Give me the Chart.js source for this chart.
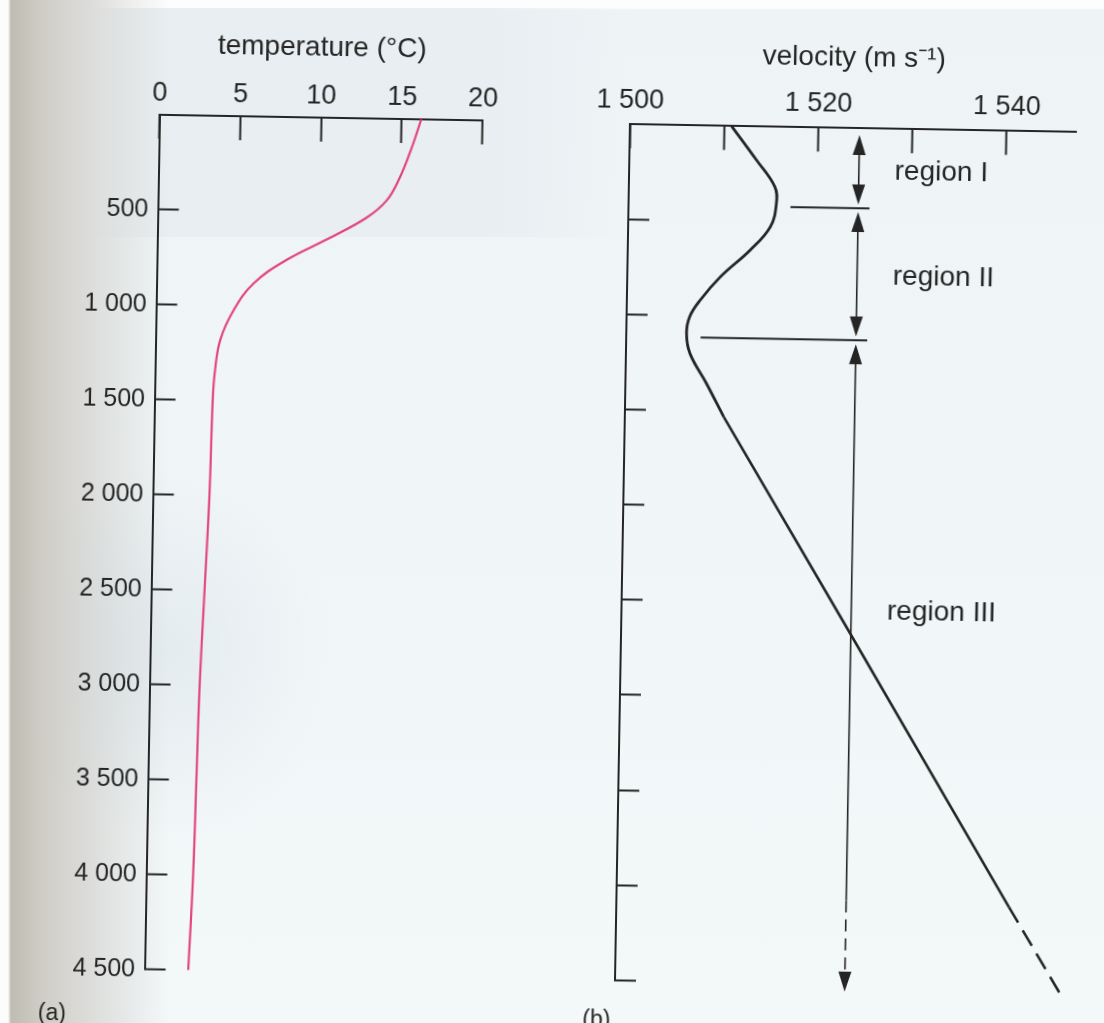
<!DOCTYPE html>
<html>
<head>
<meta charset="utf-8">
<script src="https://cdn.jsdelivr.net/npm/chart.js@4.4.1/dist/chart.umd.min.js"></script>
<style>
  html, body { margin: 0; padding: 0; }
  body {
    width: 1104px;
    height: 1023px;
    overflow: hidden;
    position: relative;
    background:
      radial-gradient(ellipse 160px 190px at 170px 650px, rgba(185, 200, 212, 0.24), rgba(185, 200, 212, 0) 100%),
      linear-gradient(to right, #fcfcfb 0, #fcfcfb 8px, #bfbcb3 11px, #cfccc5 40px, #dcdddb 90px, rgba(236, 242, 243, 0) 170px),
      linear-gradient(to right, #e8eef1 0, #e8eef1 470px, rgba(232, 238, 241, 0) 620px) 8px 8px / 620px 229px no-repeat,
      linear-gradient(to bottom, #fdfdfd 0, #fdfdfd 8px, #eef4f6 10px, #f3f8f9 100%);
  }
  /* the printed page sits slightly skewed on the scanner */
  #sheet {
    position: absolute;
    left: 0;
    top: 0;
    width: 1104px;
    height: 1023px;
    transform: rotate(1deg);
    transform-origin: 0 0;
  }
  #tempChart { position: absolute; left: 0; top: 0; }
  #velChart { position: absolute; left: 580px; top: 0; }
</style>
</head>
<body>
<div id="sheet">
  <canvas id="tempChart" width="580" height="1023"></canvas>
  <canvas id="velChart" width="524" height="1023"></canvas>
</div>
<script>
// (a) temperature profile
const tempDepth = [0, 160, 305, 430, 524, 640, 753, 879, 1021, 1180, 1350, 1500, 2000, 2500, 3000, 3500, 4000, 4500];
const tempValue = [16.2, 15.6, 14.95, 14.15, 12.9, 10.5, 8.0, 6.0, 4.8, 4.0, 3.7, 3.6, 3.5, 3.3, 3.1, 3.0, 2.9, 2.7];

// (b) sound velocity profile: curved upper part, straight deep part, dashed extrapolation
const velDepth = [0, 176, 315, 402, 526, 650, 793, 917, 1006, 1094, 1199, 1355, 1529];
const velValue = [1510.8, 1513.5, 1515.5, 1515.7, 1515.1, 1513.0, 1509.9, 1507.8, 1506.7, 1506.4, 1506.8, 1508.6, 1510.5];
const velDeepDepth = [1529, 2613, 4080];
const velDeepValue = [1510.5, 1523.8, 1541.7];
const velTailDepth = [4080, 4540];
const velTailValue = [1541.7, 1547.4];

// axis ticks
const tempTicks = [0, 5, 10, 15, 20];
const velTicks = [1500, 1510, 1520, 1530, 1540];
const velLabelled = [1500, 1520, 1540];
const depthTicks = [500, 1000, 1500, 2000, 2500, 3000, 3500, 4000, 4500];

// region annotation on (b)
const regionBounds = [420, 1115];          // depth of the separating lines
const regionBoundFrom = [1517.2, 1507.9];  // velocity where each line starts
const regionBoundTo = 1525.6;
const regionArrowAt = 1524.4;
const regionArrows = [[35, 400], [440, 1095], [1135, 4540]];
const regionArrowDashFrom = 4060;
const regionNames = ['region I', 'region II', 'region III'];
const regionNameDepth = [269, 821, 2582];
const regionNameAt = 1528.2;

const ink = '#252525';
const pink = '#e2467c';
const fontFamily = '"Liberation Sans", Arial, sans-serif';

Chart.defaults.font.family = fontFamily;
Chart.defaults.color = ink;
Chart.defaults.animation = false;

const toPoints = (ys, xs) => ys.map((d, i) => ({ x: xs[i], y: d }));
const spaced = v => String(v).replace(/\B(?=(\d{3})+(?!\d))/g, ' ');

function fixedSize(size) {
  return scale => {
    if (scale.isHorizontal()) scale.height = size;
    else scale.width = size;
    scale.paddingLeft = scale.paddingRight = scale.paddingTop = scale.paddingBottom = 0;
  };
}

function useTicks(values) {
  return scale => { scale.ticks = values.map(v => ({ value: v })); };
}

function depthAxis(width, showLabels) {
  return {
    type: 'linear',
    position: 'left',
    reverse: true,
    min: 0,
    max: 4500,
    afterBuildTicks: useTicks(depthTicks),
    afterFit: fixedSize(width),
    border: { display: true, color: ink, width: 2 },
    grid: { drawOnChartArea: false, drawTicks: true, tickLength: -21, tickWidth: 2, tickColor: ink },
    ticks: {
      display: showLabels,
      autoSkip: false,
      padding: 30.5,
      font: { size: 25 },
      callback: v => spaced(v)
    }
  };
}

function panelLetter(text, dx, dy) {
  return {
    id: 'panelLetter',
    afterDraw(chart) {
      const { ctx, chartArea } = chart;
      ctx.save();
      ctx.fillStyle = ink;
      ctx.font = '23px ' + fontFamily;
      ctx.textBaseline = 'top';
      ctx.fillText(text, chartArea.left + dx, chartArea.bottom + dy);
      ctx.restore();
    }
  };
}

function drawHead(ctx, x, tipY, dir) {
  ctx.beginPath();
  ctx.moveTo(x, tipY);
  ctx.lineTo(x - 6.5, tipY - dir * 20);
  ctx.lineTo(x + 6.5, tipY - dir * 20);
  ctx.closePath();
  ctx.fill();
}

const regionMarks = {
  id: 'regionMarks',
  afterDatasetsDraw(chart) {
    const { ctx } = chart;
    const x = chart.scales.x;
    const y = chart.scales.y;
    ctx.save();
    ctx.strokeStyle = ink;
    ctx.fillStyle = ink;

    ctx.lineWidth = 2;
    regionBounds.forEach((d, i) => {
      const py = y.getPixelForValue(d);
      ctx.beginPath();
      ctx.moveTo(x.getPixelForValue(regionBoundFrom[i]), py);
      ctx.lineTo(x.getPixelForValue(regionBoundTo), py);
      ctx.stroke();
    });

    const ax = x.getPixelForValue(regionArrowAt);
    ctx.lineWidth = 1.6;
    regionArrows.forEach(([top, bottom]) => {
      const yTop = y.getPixelForValue(top);
      const yBot = y.getPixelForValue(bottom);
      const yDash = bottom > regionArrowDashFrom ? y.getPixelForValue(regionArrowDashFrom) : yBot;
      ctx.setLineDash([]);
      ctx.beginPath();
      ctx.moveTo(ax, yTop + 10);
      ctx.lineTo(ax, Math.min(yDash, yBot - 10));
      ctx.stroke();
      if (yDash < yBot) {
        ctx.setLineDash([12, 7]);
        ctx.beginPath();
        ctx.moveTo(ax, yDash);
        ctx.lineTo(ax, yBot - 10);
        ctx.stroke();
        ctx.setLineDash([]);
      }
      drawHead(ctx, ax, yTop, -1);
      drawHead(ctx, ax, yBot, 1);
    });

    ctx.font = '28px ' + fontFamily;
    ctx.textAlign = 'left';
    ctx.textBaseline = 'alphabetic';
    regionNames.forEach((name, i) => {
      ctx.fillText(name, x.getPixelForValue(regionNameAt), y.getPixelForValue(regionNameDepth[i]));
    });
    ctx.restore();
  }
};

new Chart(document.getElementById('tempChart'), {
  type: 'scatter',
  data: {
    datasets: [{
      data: toPoints(tempDepth, tempValue),
      showLine: true,
      borderColor: pink,
      borderWidth: 2.2,
      pointRadius: 0,
      tension: 0.4
    }]
  },
  options: {
    responsive: false,
    layout: { padding: { left: 0, top: 0, right: 95.3, bottom: 56.3 } },
    plugins: { legend: { display: false }, tooltip: { enabled: false } },
    scales: {
      x: {
        type: 'linear',
        position: 'top',
        min: 0,
        max: 20,
        afterBuildTicks: useTicks(tempTicks),
        afterFit: fixedSize(112),
        border: { display: true, color: ink, width: 2 },
        grid: { drawOnChartArea: false, drawTicks: true, tickLength: -24, tickWidth: 2, tickColor: ink },
        ticks: { autoSkip: false, maxRotation: 0, padding: 28.8, font: { size: 27 } },
        title: { display: true, text: 'temperature (°C)', padding: { top: 25.8, bottom: 0 }, font: { size: 28 } }
      },
      y: depthAxis(161.5, true)
    }
  },
  plugins: [panelLetter('(a)', -106, 34)]
});

new Chart(document.getElementById('velChart'), {
  type: 'scatter',
  data: {
    datasets: [{
      data: toPoints(velDepth, velValue),
      showLine: true,
      borderColor: ink,
      borderWidth: 2.8,
      pointRadius: 0,
      tension: 0.4,
      clip: false
    }, {
      data: toPoints(velDeepDepth, velDeepValue),
      showLine: true,
      borderColor: ink,
      borderWidth: 2.6,
      pointRadius: 0,
      tension: 0,
      clip: false
    }, {
      data: toPoints(velTailDepth, velTailValue),
      showLine: true,
      borderColor: ink,
      borderWidth: 2.6,
      borderDash: [18, 9],
      pointRadius: 0,
      tension: 0,
      clip: false
    }]
  },
  options: {
    responsive: false,
    layout: { padding: { left: 0, top: 0, right: 25.7, bottom: 53.8 } },
    plugins: { legend: { display: false }, tooltip: { enabled: false } },
    scales: {
      x: {
        type: 'linear',
        position: 'top',
        min: 1500,
        max: 1547.4,
        afterBuildTicks: useTicks(velTicks),
        afterFit: fixedSize(113.3),
        border: { display: true, color: ink, width: 2 },
        grid: { drawOnChartArea: false, drawTicks: true, tickLength: -24, tickWidth: 2, tickColor: ink },
        ticks: {
          autoSkip: false,
          maxRotation: 0,
          padding: 31.6,
          font: { size: 27 },
          callback: v => (velLabelled.includes(v) ? spaced(v) : '')
        },
        title: { display: true, text: 'velocity (m s\u207B\u00B9)', padding: { top: 26.9, bottom: 0 }, font: { size: 28 } }
      },
      y: depthAxis(52, false)
    }
  },
  plugins: [regionMarks, panelLetter('(b)', -32, 29)]
});
</script>
</body>
</html>
